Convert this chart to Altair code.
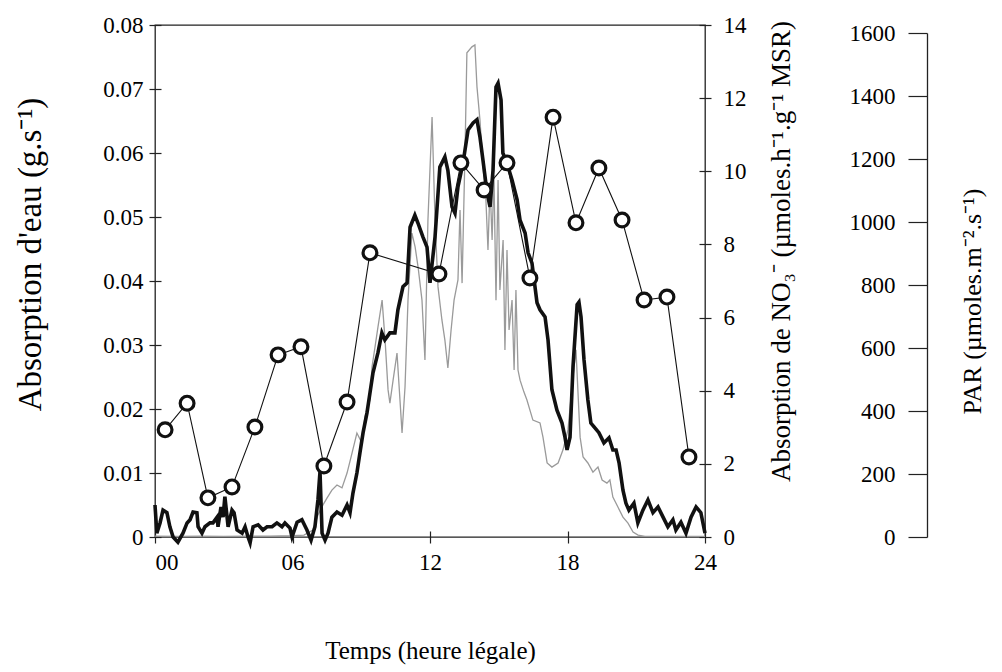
import altair as alt
import pandas as pd

# ---- Water uptake (g.s-1), thick black line ----
water_h = [0.00, 0.08, 0.22, 0.35, 0.52, 0.65, 0.79, 1.00, 1.22, 1.40, 1.53, 1.66, 1.83, 1.88,
           2.05, 2.18, 2.40, 2.53, 2.71, 2.75, 2.88, 2.97, 3.05, 3.19, 3.36, 3.45, 3.58, 3.80,
           3.93, 4.06, 4.15, 4.28, 4.50, 4.71, 4.89, 5.11, 5.32, 5.54, 5.67, 5.89, 5.98, 6.20,
           6.41, 6.63, 6.81, 6.98, 7.11, 7.20, 7.29, 7.42, 7.55, 7.72, 7.94, 8.16, 8.38, 8.51,
           8.64, 8.81, 8.94, 9.08, 9.25, 9.38, 9.51, 9.73, 9.90, 10.03, 10.25, 10.47, 10.60,
           10.82, 11.00, 11.13, 11.34, 11.47, 11.69, 11.87, 12.00, 12.22, 12.43, 12.65, 12.78,
           12.96, 13.09, 13.22, 13.44, 13.66, 13.88, 14.05, 14.18, 14.31, 14.49, 14.62, 14.75,
           14.88, 14.97, 15.10, 15.18, 15.36, 15.58, 15.80, 15.93, 16.15, 16.28, 16.45, 16.67,
           16.80, 17.02, 17.15, 17.32, 17.54, 17.76, 17.89, 17.98, 18.11, 18.24, 18.42, 18.50,
           18.59, 18.72, 18.89, 19.02, 19.16, 19.37, 19.59, 19.81, 19.98, 20.12, 20.25, 20.42,
           20.55, 20.68, 20.90, 21.07, 21.29, 21.51, 21.73, 21.95, 22.17, 22.38, 22.60, 22.73,
           22.95, 23.17, 23.39, 23.61, 23.82, 24.00]
water_v = [0.0050, 0.0006, 0.0022, 0.0042, 0.0038, 0.0016, 0.0000, -0.0008, 0.0006, 0.0022,
           0.0027, 0.0039, 0.0038, 0.0016, 0.0006, 0.0016, 0.0022, 0.0022, 0.0031, 0.0016,
           0.0047, 0.0031, 0.0063, 0.0016, 0.0042, 0.0038, 0.0011, 0.0006, 0.0016, 0.0000,
           -0.0009, 0.0016, 0.0019, 0.0011, 0.0016, 0.0016, 0.0022, 0.0016, 0.0022, 0.0014,
           0.0000, 0.0023, 0.0027, 0.0011, -0.0005, 0.0016, 0.0058, 0.0102, 0.0006, -0.0005,
           0.0006, 0.0031, 0.0039, 0.0034, 0.0050, 0.0038, 0.0069, 0.0100, 0.0131, 0.0163,
           0.0194, 0.0225, 0.0256, 0.0288, 0.0319, 0.0308, 0.0319, 0.0319, 0.0355, 0.0391,
           0.0397, 0.0484, 0.0503, 0.0491, 0.0469, 0.0453, 0.0397, 0.0469, 0.0578, 0.0594,
           0.0573, 0.0516, 0.0506, 0.0547, 0.0584, 0.0636, 0.0647, 0.0652, 0.0625, 0.0589,
           0.0538, 0.0516, 0.0573, 0.0703, 0.0709, 0.0683, 0.0600, 0.0584, 0.0558, 0.0527,
           0.0495, 0.0475, 0.0444, 0.0428, 0.0366, 0.0355, 0.0344, 0.0308, 0.0230, 0.0198,
           0.0178, 0.0156, 0.0136, 0.0156, 0.0266, 0.0363, 0.0367, 0.0344, 0.0277, 0.0214,
           0.0178, 0.0172, 0.0163, 0.0147, 0.0155, 0.0136, 0.0136, 0.0116, 0.0073, 0.0053,
           0.0042, 0.0053, 0.0022, 0.0042, 0.0058, 0.0038, 0.0047, 0.0031, 0.0016, 0.0027,
           0.0011, 0.0023, 0.0006, 0.0031, 0.0047, 0.0038, 0.0006]

# ---- PAR (umoles.m-2.s-1), thin grey line ----
par_h = [0.0, 1.0, 2.0, 3.0, 4.0, 5.0, 6.0, 6.5, 6.89, 7.11, 7.33, 7.51, 7.72, 7.94, 8.16, 8.38,
         8.60, 8.81, 9.03, 9.16, 9.38, 9.47, 9.60, 9.73, 9.91, 10.04, 10.17, 10.25, 10.39, 10.56,
         10.69, 10.78, 10.91, 11.04, 11.21, 11.35, 11.48, 11.65, 11.78, 11.91, 12.09, 12.22,
         12.35, 12.52, 12.65, 12.78, 12.92, 13.05, 13.22, 13.31, 13.40, 13.53, 13.61, 13.83,
         13.96, 14.05, 14.18, 14.31, 14.44, 14.53, 14.62, 14.71, 14.79, 14.88, 14.97, 15.05,
         15.19, 15.27, 15.36, 15.45, 15.58, 15.67, 15.75, 15.84, 15.93, 16.10, 16.23, 16.49,
         16.80, 16.93, 17.11, 17.32, 17.59, 17.80, 18.02, 18.24, 18.37, 18.55, 18.68, 18.89,
         19.11, 19.33, 19.51, 19.72, 19.85, 19.98, 20.20, 20.42, 20.64, 20.86, 21.08, 21.38,
         22.5, 24.0]
par_v = [3, 2, 3, 2, 3, 3, 4, 6, 22, 70, 102, 124, 149, 165, 156, 203,
         267, 330, 298, 381, 435, 540, 603, 667, 752, 625, 467, 425, 498, 584,
         435, 330, 476, 752, 965, 921, 857, 752, 562, 1006, 1333, 1006,
         794, 689, 625, 537, 657, 752, 816, 1038, 806, 1229, 1537, 1556,
         1562, 1429, 1324, 1181, 1070, 911, 1117, 943, 1149, 752, 1133, 784,
         943, 594, 911, 657, 752, 530, 784, 530, 498, 460, 435, 371,
         362, 317, 235, 222, 235, 276, 340, 508, 594, 317, 254, 235,
         206, 222, 181, 171, 181, 127, 95, 63, 44, 16, 6, 2,
         2, 2]

# ---- NO3- uptake (umoles.h-1.g-1 MSR), circles ----
no3_h = [0.44, 1.40, 2.31, 3.36, 4.36, 5.37, 6.37, 7.37, 8.38, 9.38, 12.39, 13.35, 14.36,
         15.36, 16.36, 17.37, 18.37, 19.37, 20.38, 21.34, 22.34, 23.30]
no3_v = [2.93, 3.66, 1.07, 1.37, 3.01, 4.98, 5.20, 1.94, 3.69, 7.77, 7.19, 10.23, 9.49,
         10.23, 7.08, 11.48, 8.59, 10.09, 8.67, 6.48, 6.56, 2.19]

x_ticks = [0, 6, 12, 18, 24]
water_ticks = [0, 0.01, 0.02, 0.03, 0.04, 0.05, 0.06, 0.07, 0.08]
no3_ticks = [0, 2, 4, 6, 8, 10, 12, 14]
par_ticks = [0, 200, 400, 600, 800, 1000, 1200, 1400, 1600]

water = pd.DataFrame({"h": water_h, "v": water_v})
par = pd.DataFrame({"h": par_h, "v": par_v})
no3 = pd.DataFrame({"h": no3_h, "v": no3_v})

FONT = "Liberation Serif"
LABEL_SIZE = 23
common = dict(labelFont=FONT, titleFont=FONT, labelColor="black", titleColor="black",
              titleFontWeight="normal", grid=False)

x_enc = alt.X(
    "h:Q",
    scale=alt.Scale(domain=[0, 24], nice=False, zero=False),
    axis=alt.Axis(
        values=x_ticks,
        labelExpr="datum.value < 10 ? '0' + datum.value : '' + datum.value",
        labelAlign={"condition": {"test": "datum.value == 0", "value": "left"}, "value": "center"},
        title="Temps (heure légale)",
        domain=False, offset=-6, tickSize=12,
        labelFontSize=LABEL_SIZE, titleFontSize=25,
        labelPadding=8, titlePadding=64, **common,
    ),
)

par_layer = alt.Chart(par).mark_line(color="#9a9a9a", strokeWidth=1.3).encode(
    x=x_enc,
    y=alt.Y(
        "v:Q",
        scale=alt.Scale(domain=[0, 1600], range=[512, 8], nice=False),
        axis=alt.Axis(
            orient="left", offset=-772, values=par_ticks, format="d",
            domain=True, tickSize=19, labelPadding=13,
            labelFontSize=LABEL_SIZE, titleFontSize=26,
            title="PAR (µmoles.m⁻².s⁻¹)", titleX=58, titleY=276, **common,
        ),
    ),
)

water_layer = alt.Chart(water).mark_line(color="#111111", strokeWidth=3.6).encode(
    x=x_enc,
    y=alt.Y(
        "v:Q",
        scale=alt.Scale(domain=[0, 0.08], nice=False),
        axis=alt.Axis(
            orient="left", values=water_ticks,
            labelExpr="datum.value == 0 ? '0' : format(datum.value, '.2f')",
            domain=False, offset=-6, tickSize=12, labelPadding=6,
            labelFontSize=LABEL_SIZE, titleFontSize=33, titlePadding=55, titleY=229,
            title="Absorption d'eau (g.s⁻¹)", **common,
        ),
    ),
)

no3_y = alt.Y(
    "v:Q",
    scale=alt.Scale(domain=[0, 14], nice=False),
    axis=alt.Axis(
        orient="right", values=no3_ticks,
        domain=False, offset=-6, tickSize=12, labelPadding=12,
        labelFontSize=LABEL_SIZE, titleFontSize=27, titlePadding=22,
        titleAngle=270, titleBaseline="top", titleY=226,
        title="Absorption de NO₃⁻ (µmoles.h⁻¹.g⁻¹ MSR)", **common,
    ),
)

no3_line = alt.Chart(no3).mark_line(color="#111111", strokeWidth=1.1).encode(x=x_enc, y=no3_y)
no3_pts = alt.Chart(no3).mark_point(
    shape="circle", filled=True, fill="white", stroke="#111111",
    strokeWidth=3.2, size=190, opacity=1,
).encode(x=x_enc, y=no3_y)
no3_layer = alt.layer(no3_line, no3_pts)

chart = (
    alt.layer(par_layer, water_layer, no3_layer)
    .resolve_scale(y="independent")
    .properties(
        width=550, height=512,
        autosize=alt.AutoSizeParams(type="none"),
        padding={"left": 147, "top": 17, "right": 285, "bottom": 130},
        background="white",
    )
    .configure_view(stroke="#222222", strokeWidth=1.3)
    .configure_axis(
        labelFont=FONT, titleFont=FONT, labelColor="black", titleColor="black",
        tickColor="#222222", domainColor="#222222", tickWidth=1.2, domainWidth=1.3,
        titleFontWeight="normal",
    )
)

chart.save("out.html", embed_options={"renderer": "svg", "actions": False})
